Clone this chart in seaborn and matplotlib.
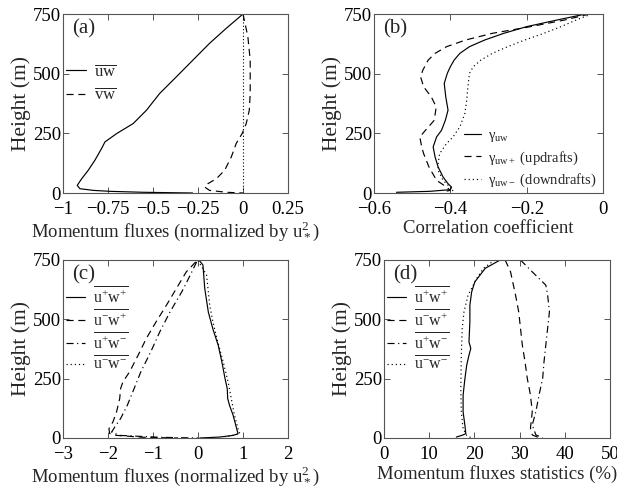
import numpy as np
import pandas as pd
import matplotlib
matplotlib.use("Agg")
import matplotlib.pyplot as plt
import seaborn as sns

# ---------------- data ----------------
# (a) momentum fluxes normalised by u*^2
a_uw_h = [750, 690, 627, 557, 487, 417, 347, 291, 249, 214, 186, 137, 95, 60, 32, 18, 11, 7, 3, 0]
a_uw_v = [0, -0.093, -0.186, -0.278, -0.37, -0.463, -0.536, -0.61, -0.702, -0.767, -0.786, -0.823,
          -0.86, -0.896, -0.921, -0.906, -0.832, -0.74, -0.555, -0.28]
a_vw_h = [750, 655, 557, 417, 347, 291, 249, 207, 151, 95, 60, 39, 25, 11, 3, 0]
a_vw_v = [0, 0.027, 0.04, 0.04, 0.035, 0.018, -0.005, -0.038, -0.065, -0.102, -0.148, -0.195,
          -0.213, -0.186, -0.093, 0]

# (b) correlation coefficients
b_uw_h = [750, 725, 697, 669, 641, 613, 585, 557, 529, 501, 459, 403, 347, 305, 263, 235, 193,
          151, 109, 67, 39, 25, 14, 7, 3]
b_uw_v = [-0.045, -0.12, -0.2, -0.26, -0.31, -0.35, -0.375, -0.39, -0.4, -0.408, -0.416, -0.412,
          -0.406, -0.413, -0.423, -0.436, -0.445, -0.44, -0.432, -0.419, -0.406, -0.397, -0.4,
          -0.454, -0.541]
b_up_h = [750, 725, 697, 669, 641, 613, 585, 557, 515, 487, 445, 403, 361, 305, 263, 235, 193,
          165, 109, 53, 25, 11, 5]
b_up_v = [-0.035, -0.1, -0.19, -0.29, -0.36, -0.41, -0.44, -0.458, -0.472, -0.478, -0.47, -0.45,
          -0.437, -0.442, -0.465, -0.48, -0.475, -0.47, -0.456, -0.436, -0.41, -0.4, -0.42]
b_dn_h = [750, 725, 697, 669, 641, 613, 585, 557, 529, 501, 445, 389, 333, 277, 235, 207, 165,
          123, 95, 53, 25, 12, 4]
b_dn_v = [-0.03, -0.07, -0.11, -0.155, -0.205, -0.25, -0.29, -0.32, -0.34, -0.35, -0.354, -0.357,
          -0.362, -0.375, -0.393, -0.41, -0.428, -0.432, -0.432, -0.419, -0.401, -0.392, -0.4]

# (c) quadrant fluxes normalised by u*^2
c_q1_h = [750, 729, 630, 530, 460, 390, 321, 251, 208, 166, 138, 96, 46, 18, 11, 4, 0]
c_q1_v = [0.02, 0.11, 0.15, 0.23, 0.33, 0.45, 0.53, 0.6, 0.65, 0.66, 0.7, 0.78, 0.85, 0.89, 0.78,
          0.48, 0.04]
c_q2_h = [742, 700, 630, 560, 490, 419, 349, 279, 236, 208, 166, 110, 68, 39, 18, 11, 3, 0]
c_q2_v = [-0.05, -0.26, -0.48, -0.7, -0.93, -1.15, -1.33, -1.52, -1.67, -1.72, -1.74, -1.81,
          -1.89, -1.98, -1.96, -1.81, -1.22, -0.48]
c_q4_h = [742, 687, 616, 532, 447, 363, 279, 208, 138, 82, 46, 25, 11, 3, 0]
c_q4_v = [-0.03, -0.17, -0.36, -0.62, -0.85, -1.05, -1.27, -1.42, -1.57, -1.72, -1.85, -1.92,
          -1.74, -0.85, 0.0]
c_q3_h = [748, 687, 560, 490, 405, 321, 236, 166, 96, 39, 18, 4]
c_q3_v = [0.0, 0.19, 0.26, 0.33, 0.44, 0.56, 0.67, 0.74, 0.81, 0.89, 0.93, 0.6]

# (d) quadrant statistics (%)
d_q1_h = [750, 715, 658, 616, 560, 490, 405, 377, 349, 307, 250, 180, 110, 53, 18, 11, 4]
d_q1_v = [25.7, 22.4, 20.1, 19.4, 19.0, 19.0, 18.8, 19.2, 18.8, 18.3, 17.9, 17.5, 17.5, 17.9,
          18.1, 17.2, 16.0]
d_q2_h = [750, 700, 602, 532, 462, 392, 321, 251, 181, 111, 41, 13, 1]
d_q2_v = [26.8, 28.0, 29.1, 29.8, 30.2, 30.6, 31.2, 31.7, 32.4, 32.8, 32.4, 32.8, 34.3]
d_q4_h = [750, 700, 644, 602, 532, 462, 392, 321, 251, 181, 111, 55, 13, 1]
d_q4_v = [30.2, 32.8, 35.8, 36.2, 36.6, 36.2, 35.8, 35.4, 35.1, 34.3, 33.6, 32.8, 33.6, 35.1]
d_q3_h = [750, 715, 672, 602, 532, 461, 349, 208, 110, 39, 11, 0]
d_q3_v = [24.5, 22.0, 20.5, 18.6, 17.7, 17.3, 17.1, 17.0, 17.1, 17.5, 18.3, 19.4]

height_ticks = [0, 250, 500, 750]
a_xticks = [-1, -0.75, -0.5, -0.25, 0, 0.25]
a_xlabels = ["\u22121", "\u22120.75", "\u22120.5", "\u22120.25", "0", "0.25"]
b_xticks = [-0.6, -0.4, -0.2, 0]
b_xlabels = ["\u22120.6", "\u22120.4", "\u22120.2", "0"]
c_xticks = [-3, -2, -1, 0, 1, 2]
c_xlabels = ["\u22123", "\u22122", "\u22121", "0", "1", "2"]
d_xticks = [0, 10, 20, 30, 40, 50]
d_xlabels = ["0", "10", "20", "30", "40", "50"]

quad_labels = [r"$\overline{\mathrm{u^{+}w^{+}}}$", r"$\overline{\mathrm{u^{-}w^{+}}}$",
               r"$\overline{\mathrm{u^{+}w^{-}}}$", r"$\overline{\mathrm{u^{-}w^{-}}}$"]

# ---------------- style ----------------
sns.set_theme(style="ticks")
plt.rcParams["font.family"] = ["Liberation Serif", "DejaVu Serif"]
plt.rcParams["mathtext.fontset"] = "custom"
plt.rcParams["mathtext.rm"] = "Liberation Serif"
plt.rcParams["mathtext.it"] = "Liberation Serif:italic"
plt.rcParams["mathtext.bf"] = "Liberation Serif:bold"
plt.rcParams["axes.linewidth"] = 0.8

TICK_FS = 13.5
XLAB_FS = 13.5
YLAB_FS = 15.5
EDGE = "#555555"

styles = {"solid": "-", "dashed": (0, (6, 4)), "dashdot": (0, (6, 3, 1, 3)), "dotted": (0, (1, 2.5))}

fig = plt.figure(figsize=(6.17, 4.93), dpi=100)
W, H = 617.0, 493.0


def make_ax(l, r, t, b):
    return fig.add_axes([l / W, 1 - b / H, (r - l) / W, (b - t) / H])


axA = make_ax(63, 288, 14, 193)
axB = make_ax(374, 603, 14, 193)
axC = make_ax(63, 288, 260, 438)
axD = make_ax(384, 610, 260, 438)


def draw(ax, xs, hs, ls, label):
    df = pd.DataFrame({"value": xs, "height": hs})
    sns.lineplot(data=df, x="value", y="height", sort=False, estimator=None, ax=ax,
                 color="black", linewidth=0.85, linestyle=ls, label=label)


def finish(ax, xlim, xticks, xlabels, xlabel, tag):
    ax.set_xlim(*xlim)
    ax.set_ylim(0, 750)
    ax.set_xticks(xticks)
    ax.set_xticklabels(xlabels)
    ax.set_yticks(height_ticks)
    ax.set_yticklabels([str(t) for t in height_ticks])
    ax.tick_params(direction="in", top=True, right=True, length=4, width=0.7,
                   labelsize=TICK_FS, colors=EDGE, labelcolor="black")
    ax.tick_params(axis="x", pad=5.5)
    ax.tick_params(axis="y", pad=1.5)
    ax.set_xlabel(xlabel, fontsize=XLAB_FS, labelpad=1.5)
    ax.set_ylabel("Height (m)", fontsize=YLAB_FS, labelpad=1)
    ax.text(0.04, 0.97, tag, transform=ax.transAxes, fontsize=15, va="top", ha="left")
    for s in ax.spines.values():
        s.set_color(EDGE)


leg_kw = dict(frameon=False, handlelength=1.15, handletextpad=0.5, borderaxespad=0, borderpad=0.2)

# (a)
axA.axvline(0, color="black", linewidth=0.8, linestyle=(0, (1, 2)))
draw(axA, a_uw_v, a_uw_h, styles["solid"], r"$\overline{\mathrm{uw}}$")
draw(axA, a_vw_v, a_vw_h, styles["dashed"], r"$\overline{\mathrm{vw}}$")
finish(axA, (-1, 0.25), a_xticks, a_xlabels, r"Momentum fluxes (normalized by u$_*^2$)", "(a)")
axA.legend(loc="upper left", bbox_to_anchor=(0.0, 0.74), fontsize=12, labelspacing=0.45, **leg_kw)

# (b)
draw(axB, b_uw_v, b_uw_h, styles["solid"], r"$\mathrm{\gamma_{uw}}$")
draw(axB, b_up_v, b_up_h, styles["dashed"], r"$\mathrm{\gamma_{uw+}}$ (updrafts)")
draw(axB, b_dn_v, b_dn_h, styles["dotted"], r"$\mathrm{\gamma_{uw-}}$ (downdrafts)")
finish(axB, (-0.6, 0), b_xticks, b_xlabels, "Correlation coefficient", "(b)")
axB.legend(loc="lower right", bbox_to_anchor=(0.985, 0.005), fontsize=10.5, labelspacing=0.35,
           **leg_kw)

# (c)
draw(axC, c_q1_v, c_q1_h, styles["solid"], quad_labels[0])
draw(axC, c_q2_v, c_q2_h, styles["dashed"], quad_labels[1])
draw(axC, c_q4_v, c_q4_h, styles["dashdot"], quad_labels[2])
draw(axC, c_q3_v, c_q3_h, styles["dotted"], quad_labels[3])
finish(axC, (-3, 2), c_xticks, c_xlabels, r"Momentum fluxes (normalized by u$_*^2$)", "(c)")
axC.legend(loc="upper left", bbox_to_anchor=(0.0, 0.87), fontsize=11.5, labelspacing=0.15, **leg_kw)

# (d)
draw(axD, d_q1_v, d_q1_h, styles["solid"], quad_labels[0])
draw(axD, d_q2_v, d_q2_h, styles["dashed"], quad_labels[1])
draw(axD, d_q4_v, d_q4_h, styles["dashdot"], quad_labels[2])
draw(axD, d_q3_v, d_q3_h, styles["dotted"], quad_labels[3])
finish(axD, (0, 50), d_xticks, d_xlabels, "Momentum fluxes statistics (%)", "(d)")
axD.legend(loc="upper left", bbox_to_anchor=(0.0, 0.87), fontsize=11.5, labelspacing=0.15, **leg_kw)

fig.savefig("out.png", dpi=100)
